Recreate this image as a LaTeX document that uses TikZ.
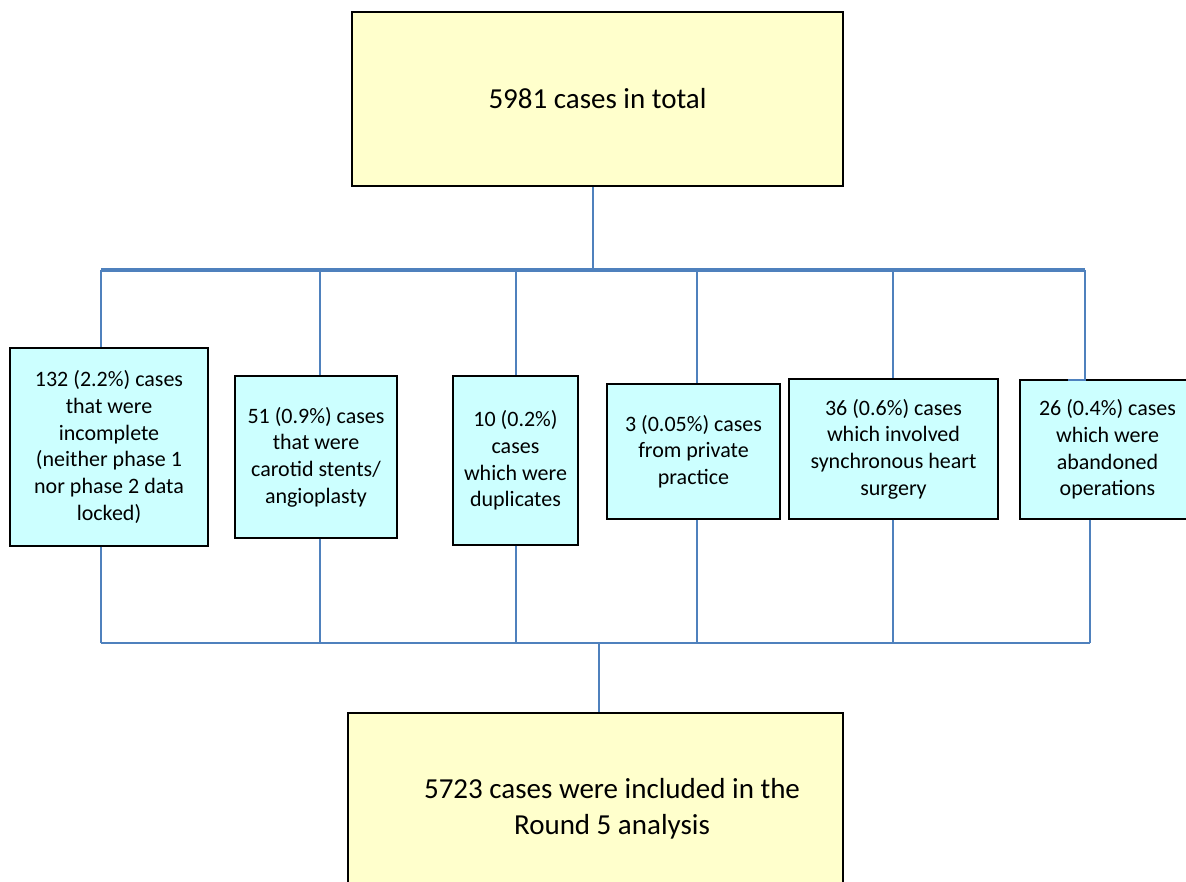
\documentclass[tikz,border=0pt]{standalone}
\usepackage{fontspec}
\setmainfont{Carlito}
\definecolor{conn}{HTML}{4F81BD}
\definecolor{ybox}{HTML}{FFFFCC}
\definecolor{cbox}{HTML}{CCFFFF}
\begin{document}
\begin{tikzpicture}[x=1pt,y=1pt,
  bigbox/.style={draw=black,line width=1.8pt,fill=ybox,inner sep=0pt,align=center,
    font=\fontsize{29}{36}\selectfont},
  smallbox/.style={draw=black,line width=1.5pt,fill=cbox,inner sep=0pt,align=center,
    font=\fontsize{22}{26.7}\selectfont},
  link/.style={draw=conn,line width=2.4pt},
  bar/.style={draw=conn,line width=3.6pt}]
\clip (0,0) rectangle (1186,882);
\fill[white] (0,0) rectangle (1186,882);
% top box
\node[bigbox,minimum width=491pt,minimum height=174pt] (top) at (597.5,783) {5981 cases in total};
% exclusion boxes
\node[smallbox,minimum width=198pt,minimum height=198pt] (b1) at (109,435)
  {132 (2.2\%) cases\\that were\\incomplete\\(neither phase 1\\nor phase 2 data\\locked)};
\node[smallbox,minimum width=162pt,minimum height=162pt] (b2) at (316,425)
  {51 (0.9\%) cases\\that were\\carotid stents/\\angioplasty};
\node[smallbox,minimum width=125pt,minimum height=169pt] (b3) at (515.5,421.5)
  {10 (0.2\%)\\cases\\which were\\duplicates};
\node[smallbox,minimum width=173pt,minimum height=135pt] (b4) at (693.5,430.5)
  {3 (0.05\%) cases\\from private\\practice};
\node[smallbox,minimum width=209pt,minimum height=140pt] (b5) at (893.5,433)
  {36 (0.6\%) cases\\which involved\\synchronous heart\\surgery};
\node[smallbox,minimum width=175pt,minimum height=139pt] (b6) at (1107.5,432.5)
  {26 (0.4\%) cases\\which were\\abandoned\\operations};
% bottom box
\node[bigbox,minimum width=495pt,minimum height=180pt] (bot) at (595.5,79) {};
\node[font=\fontsize{29}{36}\selectfont,align=center,inner sep=0pt] (bottxt) at (612,73.5)
  {5723 cases were included in the\\Round 5 analysis};
% upper connectors
\coordinate (ts) at (593,612);
\coordinate (t1) at (101,612);
\coordinate (t2) at (320,612);
\coordinate (t3) at (516,612);
\coordinate (t4) at (697,612);
\coordinate (t5) at (893,612);
\coordinate (t6) at (1085,612);
\coordinate (j6) at (1068,502);
\draw[link] (top.south -| ts) -- (ts);
\draw[bar] (t1) -- (t6);
\draw[link] (t1) -- (b1.north -| t1);
\draw[link] (t2) -- (b2.north -| t2);
\draw[link] (t3) -- (b3.north -| t3);
\draw[link] (t4) -- (b4.north -| t4);
\draw[link] (t5) -- (b5.north -| t5);
\draw[link] (t6) |- (j6);
% lower connectors
\coordinate (us) at (599,239);
\coordinate (u1) at (101,239);
\coordinate (u2) at (320,239);
\coordinate (u3) at (516,239);
\coordinate (u4) at (697,239);
\coordinate (u5) at (893,239);
\coordinate (u6) at (1090,239);
\draw[link] (b1.south -| u1) -- (u1);
\draw[link] (b2.south -| u2) -- (u2);
\draw[link] (b3.south -| u3) -- (u3);
\draw[link] (b4.south -| u4) -- (u4);
\draw[link] (b5.south -| u5) -- (u5);
\draw[link] (b6.south -| u6) -- (u6);
\draw[link] (u1) -- (u6);
\draw[link] (us) -- (bot.north -| us);
\end{tikzpicture}
\end{document}
